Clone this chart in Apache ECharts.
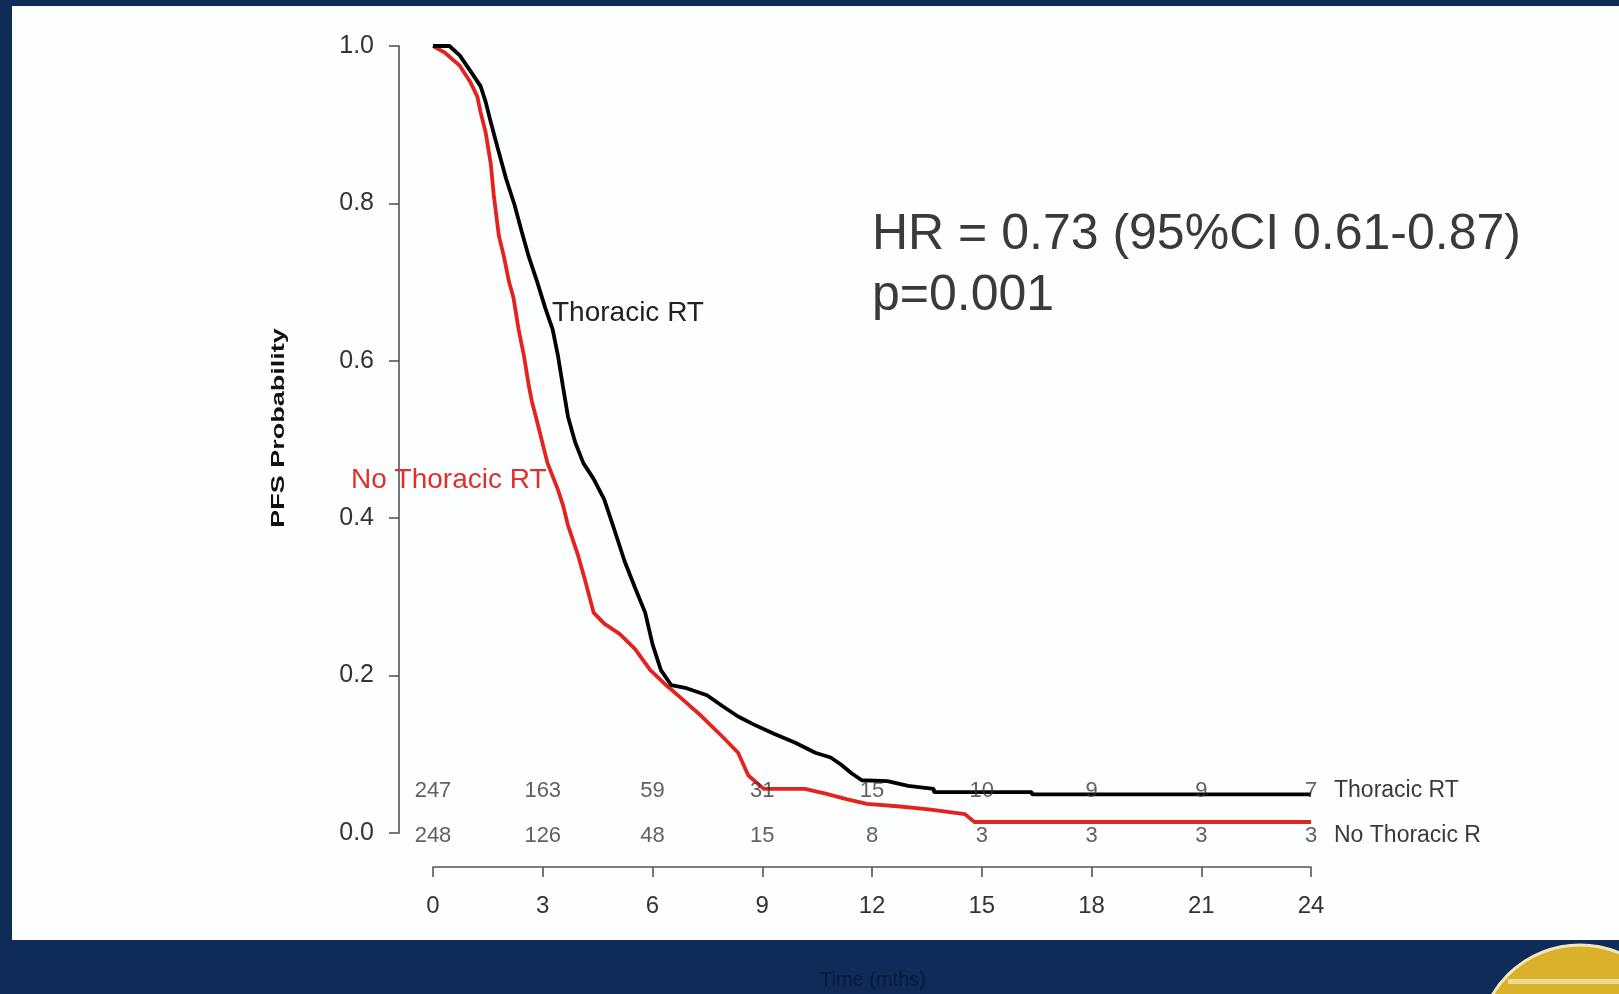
<!DOCTYPE html>
<html>
<head>
<meta charset="utf-8">
<script src="https://cdn.jsdelivr.net/npm/echarts@6/dist/echarts.min.js"></script>
<style>
html,body{margin:0;padding:0;background:#0f2b58;}
#chart{width:1619px;height:994px;}
</style>
</head>
<body>
<div id="chart"></div>
<script>
// ---- data ----
const thoracicT = [0, 0.45, 0.73, 1.01, 1.30, 1.44, 1.58, 1.77, 2.0, 2.23, 2.42, 2.62, 2.85, 3.07, 3.27, 3.41, 3.55, 3.69, 3.89, 4.11, 4.39, 4.68, 4.96, 5.24, 5.52, 5.80, 6.0, 6.23, 6.51, 6.93, 7.49, 7.92, 8.34, 8.76, 9.32, 9.89, 10.45, 10.87, 11.15, 11.44, 11.72, 12.42, 12.99, 13.69, 13.69, 16.37, 16.37, 24];
const thoracicS = [1.0, 1.0, 0.988, 0.969, 0.949, 0.929, 0.903, 0.87, 0.831, 0.798, 0.765, 0.732, 0.70, 0.667, 0.64, 0.608, 0.568, 0.529, 0.496, 0.47, 0.45, 0.424, 0.385, 0.345, 0.312, 0.28, 0.24, 0.207, 0.188, 0.184, 0.175, 0.161, 0.148, 0.138, 0.126, 0.115, 0.102, 0.096, 0.087, 0.076, 0.067, 0.066, 0.06, 0.056, 0.052, 0.052, 0.049, 0.049];

const noThoracicT = [0, 0.31, 0.73, 1.01, 1.21, 1.30, 1.44, 1.58, 1.66, 1.80, 1.94, 2.08, 2.20, 2.34, 2.48, 2.62, 2.70, 2.85, 3.13, 3.41, 3.55, 3.69, 3.97, 4.17, 4.39, 4.68, 5.10, 5.52, 5.94, 6.37, 6.79, 7.35, 7.92, 8.34, 8.62, 9.04, 10.17, 10.73, 11.3, 11.86, 12.7, 13.55, 14.54, 14.8, 24];
const noThoracicS = [1.0, 0.992, 0.975, 0.955, 0.936, 0.916, 0.89, 0.85, 0.811, 0.759, 0.732, 0.70, 0.68, 0.64, 0.608, 0.568, 0.549, 0.522, 0.47, 0.437, 0.417, 0.391, 0.352, 0.319, 0.28, 0.266, 0.253, 0.234, 0.207, 0.188, 0.171, 0.148, 0.122, 0.102, 0.073, 0.056, 0.056, 0.05, 0.043, 0.037, 0.034, 0.030, 0.024, 0.014, 0.014];

const riskTimes = [0, 3, 6, 9, 12, 15, 18, 21, 24];
const riskThoracic = [247, 163, 59, 31, 15, 10, 9, 9, 7];
const riskNoThoracic = [248, 126, 48, 15, 8, 3, 3, 3, 3];

const xTicks = [0, 3, 6, 9, 12, 15, 18, 21, 24];
const yTicks = [0, 0.2, 0.4, 0.6, 0.8, 1.0];

const seriesNames = ['Thoracic RT', 'No Thoracic RT'];
const hrText = 'HR = 0.73 (95%CI 0.61-0.87)';
const pText = 'p=0.001';
const yTitle = 'PFS Probability';
const xTitle = 'Time (mths)';

// ---- build ----
const zip = (a, b) => a.map((v, i) => [v, b[i]]);
const FONT = '"Liberation Sans", Arial, sans-serif';
const ROW_T = 0.054, ROW_N = -0.004;

const chart = echarts.init(document.getElementById('chart'), null, {renderer: 'canvas'});

const riskSeries = (counts, rowY) => ({
  type: 'scatter',
  symbolSize: 0,
  clip: false,
  silent: true,
  z: 5,
  data: riskTimes.map((t, i) => [t, rowY, counts[i]]),
  label: {
    show: true,
    position: 'inside',
    formatter: p => String(p.value[2]),
    fontFamily: FONT,
    fontSize: 22,
    color: '#383838'
  }
});

chart.setOption({
  backgroundColor: '#0f2b58',
  animation: false,
  grid: {left: 433, right: 308, top: 46, bottom: 161},
  xAxis: {
    type: 'value', min: 0, max: 24, interval: 3, offset: 34,
    axisLine: {show: true, onZero: false, lineStyle: {color: '#555', width: 1.6}},
    axisTick: {show: true, length: 10, lineStyle: {color: '#555', width: 1.6}},
    splitLine: {show: false},
    axisLabel: {fontFamily: FONT, fontSize: 24, color: '#333', margin: 27,
      formatter: v => xTicks.includes(v) ? String(v) : ''}
  },
  yAxis: {
    type: 'value', min: 0, max: 1, interval: 0.2, offset: 34,
    axisLine: {show: true, onZero: false, lineStyle: {color: '#555', width: 1.6}},
    axisTick: {show: true, length: 10, lineStyle: {color: '#555', width: 1.6}},
    splitLine: {show: false},
    axisLabel: {fontFamily: FONT, fontSize: 25, color: '#333', margin: 25,
      formatter: v => yTicks.some(t => Math.abs(t - v) < 1e-9) ? v.toFixed(1) : ''}
  },
  series: [
    {
      name: seriesNames[1], type: 'line', data: zip(noThoracicT, noThoracicS),
      showSymbol: false, clip: false, z: 3,
      lineStyle: {color: '#e3231f', width: 3.8}, itemStyle: {color: '#e3231f'}
    },
    {
      name: seriesNames[0], type: 'line', data: zip(thoracicT, thoracicS),
      showSymbol: false, clip: false, z: 4,
      lineStyle: {color: '#000', width: 3.8}, itemStyle: {color: '#000'}
    },
    riskSeries(riskThoracic, ROW_T),
    riskSeries(riskNoThoracic, ROW_N)
  ],
  graphic: [
    {type: 'rect', z: -100, shape: {x: 12, y: 6, width: 1607, height: 934}, style: {fill: '#fdfefe'}},
    {type: 'circle', z: -90, shape: {cx: 1580, cy: 1047, r: 102}, style: {fill: '#dab12a', stroke: '#f3e9c0', lineWidth: 3}},
    {type: 'rect', z: -89, shape: {x: 1508, y: 979, width: 150, height: 5}, style: {fill: '#efdc8a'}},
    {type: 'text', z: 10, x: 873, y: 980, style: {text: xTitle, fontFamily: FONT, fontSize: 20, fill: '#0a1a38', align: 'center', verticalAlign: 'middle'}},
    {type: 'text', z: 10, x: 279, y: 428, rotation: Math.PI / 2, scaleX: 1.42, style: {text: yTitle, fontFamily: FONT, fontWeight: 'bold', fontSize: 19, fill: '#111', align: 'center', verticalAlign: 'middle'}},
    {type: 'text', z: 10, x: 872, y: 235, style: {text: hrText, fontFamily: FONT, fontSize: 50, fill: '#3a3a3a', align: 'left', verticalAlign: 'middle'}},
    {type: 'text', z: 10, x: 872, y: 296, style: {text: pText, fontFamily: FONT, fontSize: 50, fill: '#3a3a3a', align: 'left', verticalAlign: 'middle'}},
    {type: 'text', z: 10, x: 552, y: 313, style: {text: seriesNames[0], fontFamily: FONT, fontSize: 28, fill: '#222', align: 'left', verticalAlign: 'middle'}},
    {type: 'text', z: 10, x: 351, y: 480, style: {text: seriesNames[1], fontFamily: FONT, fontSize: 28, fill: '#e0302e', align: 'left', verticalAlign: 'middle'}},
    {type: 'text', z: 10, x: 1334, y: 791, style: {text: seriesNames[0], fontFamily: FONT, fontSize: 23, fill: '#3a3a3a', align: 'left', verticalAlign: 'middle'}},
    {type: 'text', z: 10, x: 1334, y: 836, style: {text: seriesNames[1], fontFamily: FONT, fontSize: 23, fill: '#3a3a3a', align: 'left', verticalAlign: 'middle', width: 156, overflow: 'truncate', ellipsis: ''}}
  ]
});
</script>
</body>
</html>
